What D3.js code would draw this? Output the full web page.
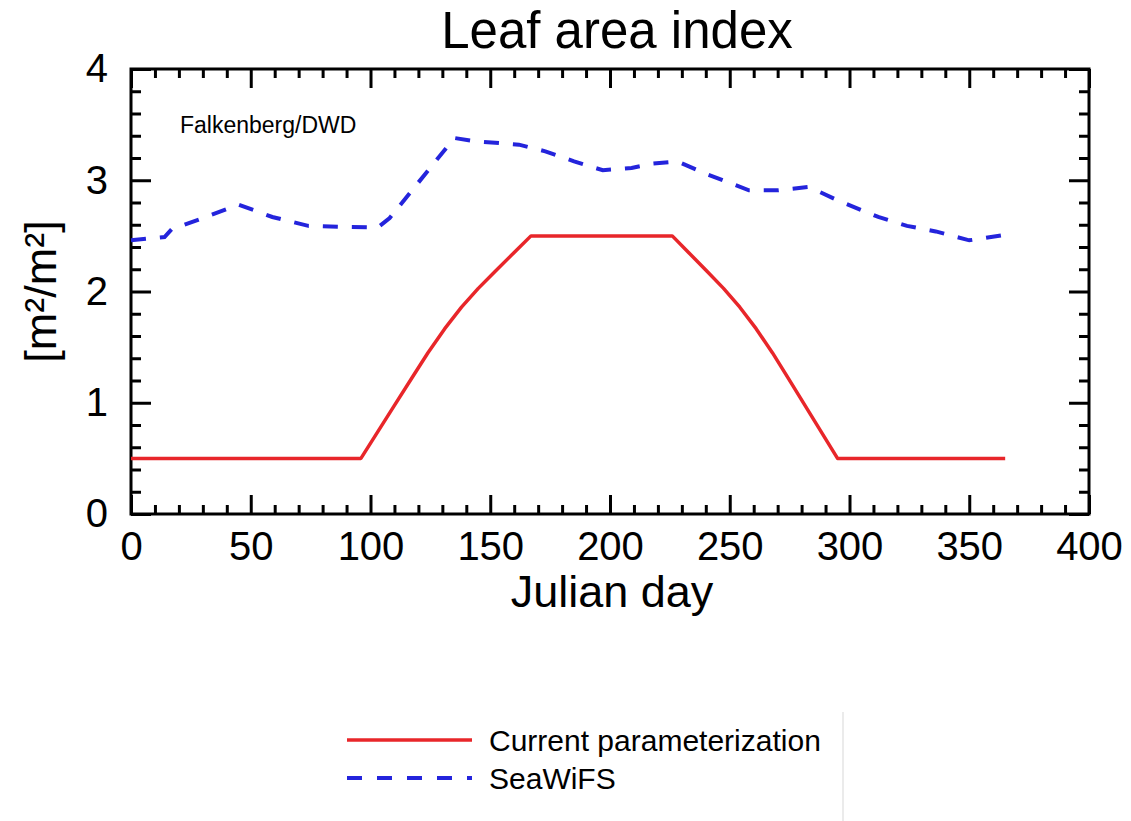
<!DOCTYPE html>
<html>
<head>
<meta charset="utf-8">
<script src="https://cdn.jsdelivr.net/npm/d3@7"></script>
<style>
  body { margin: 0; background: #fff; }
  svg { font-family: "Liberation Sans", Arial, Helvetica, sans-serif; }
</style>
</head>
<body>
<div id="chart"></div>
<script>
// current parameterization (red)
var paramDays = [0, 96, 103, 110, 117, 124, 131, 138, 145, 152, 160, 167, 226, 232.8, 240.6, 247.4, 254.2, 261, 267.8, 274.6, 281.4, 288.2, 295, 365]
var paramLai  = [0.5, 0.5, 0.738, 0.976, 1.214, 1.45, 1.666, 1.859, 2.028, 2.179, 2.351, 2.5, 2.5, 2.351, 2.179, 2.028, 1.859, 1.666, 1.45, 1.214, 0.976, 0.738, 0.5, 0.5]

// SeaWiFS (blue dashed)
var seaDays = [0, 14, 17, 30, 45, 59, 74, 89, 103, 108, 120, 135, 144, 162, 173, 185, 197, 209, 218, 228, 241, 258, 270, 283, 295, 312, 324, 336, 350, 365]
var seaLai  = [2.46, 2.49, 2.56, 2.66, 2.78, 2.67, 2.59, 2.58, 2.575, 2.66, 2.98, 3.38, 3.35, 3.32, 3.26, 3.17, 3.09, 3.11, 3.15, 3.17, 3.05, 2.91, 2.91, 2.94, 2.82, 2.67, 2.59, 2.54, 2.46, 2.51]

var xMajor = [0, 50, 100, 150, 200, 250, 300, 350, 400]
var yMajor = [0, 1, 2, 3, 4]

var seriesNames = ["Current parameterization", "SeaWiFS"]

var margin = { top: 69, right: 42, bottom: 307, left: 131 }
var W = 1131, H = 821
var width = W - margin.left - margin.right
var height = H - margin.top - margin.bottom

var svg = d3.select("#chart").append("svg")
    .attr("width", W)
    .attr("height", H)

var g = svg.append("g")
    .attr("transform", "translate(" + margin.left + "," + margin.top + ")")

var x = d3.scaleLinear().domain([0, 400]).range([0, width])
var y = d3.scaleLinear().domain([0, 4]).range([height, 0])

var xMinor = d3.range(0, 401, 10).filter(function (d) { return d % 50 != 0 })
var yMinor = d3.range(0, 4.01, 0.2).filter(function (d) { return Math.abs(d - Math.round(d)) > 0.01 })

function styleAxis(sel) {
    sel.select(".domain").remove()
    sel.selectAll("line").attr("stroke", "#000").attr("stroke-width", 3)
    sel.selectAll("text").attr("fill", "#000").attr("font-size", "40px")
}

// bottom
g.append("g").attr("transform", "translate(0," + height + ")")
    .call(d3.axisBottom(x).tickValues(xMajor).tickSizeInner(-19).tickSizeOuter(0).tickPadding(18))
    .call(styleAxis)
g.append("g").attr("transform", "translate(0," + height + ")")
    .call(d3.axisBottom(x).tickValues(xMinor).tickSizeInner(-9).tickSizeOuter(0).tickFormat(""))
    .call(styleAxis)
// top
g.append("g")
    .call(d3.axisTop(x).tickValues(xMajor).tickSizeInner(-19).tickSizeOuter(0).tickFormat(""))
    .call(styleAxis)
g.append("g")
    .call(d3.axisTop(x).tickValues(xMinor).tickSizeInner(-9).tickSizeOuter(0).tickFormat(""))
    .call(styleAxis)
// left
g.append("g")
    .call(d3.axisLeft(y).tickValues(yMajor).tickSizeInner(-20).tickSizeOuter(0).tickPadding(23).tickFormat(d3.format("d")))
    .call(styleAxis)
g.append("g")
    .call(d3.axisLeft(y).tickValues(yMinor).tickSizeInner(-10).tickSizeOuter(0).tickFormat(""))
    .call(styleAxis)
// right
g.append("g").attr("transform", "translate(" + width + ",0)")
    .call(d3.axisRight(y).tickValues(yMajor).tickSizeInner(-20).tickSizeOuter(0).tickFormat(""))
    .call(styleAxis)
g.append("g").attr("transform", "translate(" + width + ",0)")
    .call(d3.axisRight(y).tickValues(yMinor).tickSizeInner(-10).tickSizeOuter(0).tickFormat(""))
    .call(styleAxis)

// frame
g.append("rect")
    .attr("width", width)
    .attr("height", height)
    .attr("fill", "none")
    .attr("stroke", "#000")
    .attr("stroke-width", 3)

var line = d3.line()
    .x(function (d) { return x(d[0]) })
    .y(function (d) { return y(d[1]) })

g.append("path")
    .datum(d3.zip(seaDays, seaLai))
    .attr("d", line)
    .attr("fill", "none")
    .attr("stroke", "#2424dc")
    .attr("stroke-width", 4)
    .attr("stroke-dasharray", "15,14")

g.append("path")
    .datum(d3.zip(paramDays, paramLai))
    .attr("d", line)
    .attr("fill", "none")
    .attr("stroke", "#e8262a")
    .attr("stroke-width", 3.5)
    .attr("stroke-linejoin", "round")

// titles
svg.append("text")
    .attr("x", margin.left + width / 2 + 7)
    .attr("y", 48)
    .attr("text-anchor", "middle")
    .attr("font-size", "51px")
    .text("Leaf area index")

svg.append("text")
    .attr("x", margin.left + width / 2 + 2)
    .attr("y", 607)
    .attr("text-anchor", "middle")
    .attr("font-size", "45px")
    .text("Julian day")

svg.append("text")
    .attr("transform", "translate(56," + (margin.top + height / 2) + ") rotate(-90)")
    .attr("text-anchor", "middle")
    .attr("font-size", "45px")
    .text("[m²/m²]")

svg.append("text")
    .attr("x", 180)
    .attr("y", 133)
    .attr("font-size", "23px")
    .text("Falkenberg/DWD")

// legend
var legend = svg.append("g")
var legY = [740, 778]
legend.append("line")
    .attr("x1", 347).attr("x2", 472)
    .attr("y1", legY[0]).attr("y2", legY[0])
    .attr("stroke", "#e8262a").attr("stroke-width", 3.5)
legend.append("line")
    .attr("x1", 347).attr("x2", 472)
    .attr("y1", legY[1]).attr("y2", legY[1])
    .attr("stroke", "#2424dc").attr("stroke-width", 4)
    .attr("stroke-dasharray", "15,15")
legend.selectAll("text.leg")
    .data(seriesNames)
    .enter().append("text")
    .attr("class", "leg")
    .attr("x", 489)
    .attr("y", function (d, i) { return legY[i] + 11 })
    .attr("font-size", "30px")
    .text(function (d) { return d })

legend.append("line")
    .attr("x1", 843).attr("x2", 843)
    .attr("y1", 712).attr("y2", 821)
    .attr("stroke", "#ebebeb").attr("stroke-width", 2)
</script>
</body>
</html>
